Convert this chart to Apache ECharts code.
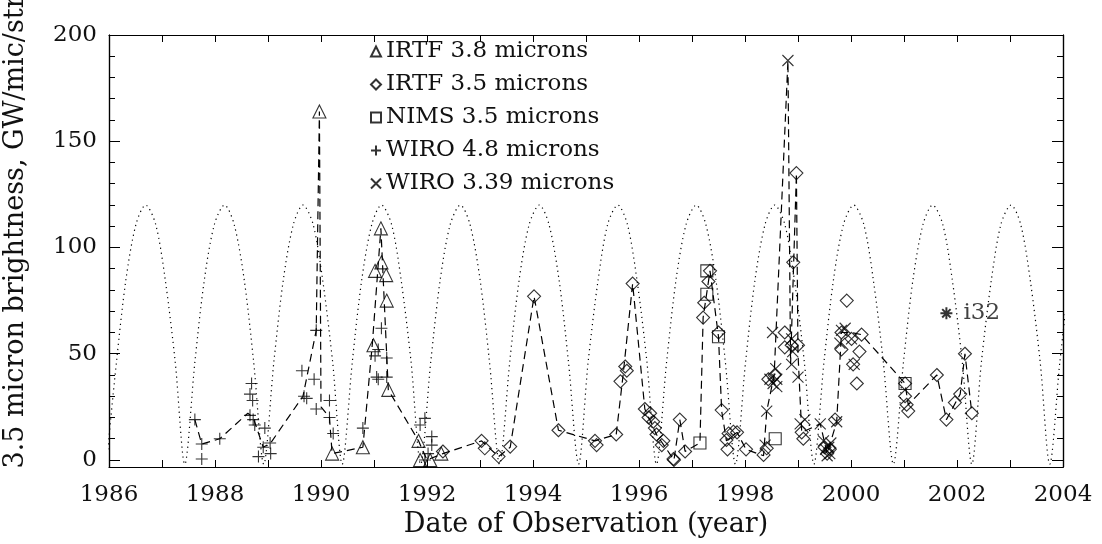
<!DOCTYPE html>
<html>
<head>
<meta charset="utf-8">
<script src="https://cdn.jsdelivr.net/npm/echarts@6/dist/echarts.min.js"></script>
<style>
html,body{margin:0;padding:0;background:#fff;}
#chart{width:1102px;height:544px;}
</style>
</head>
<body>
<div id="chart"></div>
<script>
// ---------------- data ----------------
const xTickLabels = [1986, 1988, 1990, 1992, 1994, 1996, 1998, 2000, 2002, 2004];
const yTickLabels = [0, 50, 100, 150, 200];
const yMinorTicks = [10, 20, 30, 40, 60, 70, 80, 90, 110, 120, 130, 140, 160, 170, 180, 190];

const seriesNames = ['IRTF 3.8 microns', 'IRTF 3.5 microns', 'NIMS 3.5 microns', 'WIRO 4.8 microns', 'WIRO 3.39 microns'];

// IRTF 3.8 microns (triangles)
const irtf38Years = [1989.97, 1990.21, 1990.79, 1990.99, 1991.02, 1991.13, 1991.14, 1991.23, 1991.24, 1991.27, 1991.84, 1991.87, 1992.06, 1992.27];
const irtf38Vals  = [164, 3, 6, 54, 89, 109, 93, 87, 75, 33, 9, 0, 0, 3];

// IRTF 3.5 microns (diamonds)
const irtf35Years = [1992.30, 1993.03, 1993.09, 1993.35, 1993.57, 1994.02, 1994.48, 1995.17, 1995.20, 1995.57,
  1995.65, 1995.74, 1995.77, 1995.88, 1996.11, 1996.18, 1996.21, 1996.27, 1996.30, 1996.33,
  1996.43, 1996.46, 1996.65, 1996.66, 1996.77, 1996.87, 1997.21, 1997.23, 1997.31, 1997.34,
  1997.50, 1997.56, 1997.65, 1997.67, 1997.69, 1997.78, 1997.85, 1998.02, 1998.35, 1998.41,
  1998.44, 1998.56, 1998.75, 1998.75, 1998.88, 1998.91, 1998.97, 1999.00, 1999.07, 1999.10,
  1999.50, 1999.55, 1999.60, 1999.70, 1999.82, 1999.82, 1999.92, 2000.01, 2000.04, 2000.11,
  2000.16, 2000.20, 2001.02, 2001.02, 2001.05, 2001.08, 2001.62, 2001.80, 2001.96, 2002.06,
  2002.15, 2002.28];
const irtf35Vals = [4, 9, 5.5, 1.6, 6.3, 77, 14, 9, 7, 12,
  37, 44, 42, 83, 24, 20, 22, 18, 15, 12,
  7, 9, 0.5, 0, 19, 4, 67, 74, 84, 89,
  60, 23.5, 9.4, 5, 12.5, 13.3, 13, 5, 2.4, 5.5,
  38, 40, 60, 53, 54, 93, 135, 54, 13, 10,
  6, 3, 5, 19, 60, 52, 75, 57, 45, 36,
  51, 59, 36, 30, 26, 23, 40, 19, 27, 31,
  50, 22];

// NIMS 3.5 microns (squares)
const nimsYears = [1997.15, 1997.28, 1997.28, 1997.50, 1998.57, 2001.02];
const nimsVals  = [8, 89, 78, 58, 10, 36];

// WIRO 4.8 microns (plus)
const wiro48Years = [1987.62, 1987.75, 1987.75, 1988.09, 1988.69, 1988.66, 1988.71, 1988.66, 1988.72, 1988.75,
  1988.94, 1988.91, 1989.04, 1988.82, 1989.05, 1989.64, 1989.68, 1989.73, 1989.91, 1989.87,
  1989.91, 1990.16, 1990.16, 1990.23, 1990.79, 1991.02, 1991.05, 1991.08, 1991.08, 1991.14,
  1991.24, 1991.24, 1991.87, 1991.96, 1991.96, 1992.02, 1992.09, 1992.09];
const wiro48Vals = [19, 7.5, 0.5, 10, 36, 31, 28, 21, 19, 16.5,
  15, 6, 8, 1.6, 3, 42, 30, 29, 61, 38,
  24, 28, 20, 12.5, 15, 49, 39, 52, 38, 62,
  48, 39, 16.5, 19.6, 0, 3, 11, 7];

// WIRO 3.39 microns (x)
const wiro339Years = [1998.38, 1998.41, 1998.47, 1998.52, 1998.53, 1998.58, 1998.60, 1998.60, 1998.81, 1998.88,
  1998.88, 1998.90, 1999.00, 1999.04, 1999.13, 1999.42, 1999.48, 1999.52, 1999.55, 1999.58,
  1999.60, 1999.62, 1999.73, 1999.79, 1999.82, 1999.89, 2000.01, 2000.06];
const wiro339Vals = [7, 23, 38, 60, 36, 43, 38, 34.5, 188, 57,
  45, 51, 39, 17, 19, 17, 9, 5, 2, 6,
  3, 8, 18, 55, 61, 62, 57, 45];

// i32 point
const i32Year = 2001.80;
const i32Val = 69;

// dashed connecting line
const dashYears = [1987.62, 1987.75, 1988.09, 1988.62, 1988.72, 1988.91, 1989.05, 1989.66, 1989.91, 1989.97,
  1990.00, 1990.16, 1990.21, 1990.79, 1990.97, 1991.13, 1991.27, 1991.84, 1992.00, 1992.30,
  1993.03, 1993.35, 1993.57, 1994.02, 1994.48, 1995.17, 1995.57, 1995.70, 1995.88, 1996.11,
  1996.33, 1996.66, 1996.77, 1996.87, 1997.15, 1997.21, 1997.34, 1997.50, 1997.56, 1997.65,
  1997.85, 1998.02, 1998.35, 1998.41, 1998.55, 1998.81, 1998.86, 1998.97, 1999.00, 1999.07,
  1999.42, 1999.55, 1999.73, 1999.82, 2000.00, 2000.20, 2001.02, 2001.08, 2001.62, 2001.80,
  2002.06, 2002.15, 2002.28];
const dashVals = [19, 7.5, 10, 22, 20, 6, 8, 30, 61, 164,
  25, 20, 3, 6, 55, 109, 33, 9, 0, 3,
  9, 1.6, 6, 77, 14, 9, 12, 40, 83, 24,
  12, 0, 19, 4, 8, 67, 89, 58, 23, 9,
  13, 5, 2, 23, 40, 188, 45, 135, 50, 13,
  17, 3, 18, 60, 60, 59, 36, 26, 40, 19,
  31, 50, 22];

// dotted periodic curve
const curveYears = [
  1985.95, 1986.14, 1986.32, 1986.51, 1986.69, 1986.88, 1987.06, 1987.25,
  1987.43, 1987.62, 1987.80, 1987.99, 1988.18, 1988.36, 1988.55, 1988.73,
  1988.92, 1989.11, 1989.29, 1989.48, 1989.66, 1989.85, 1990.03, 1990.22,
  1990.40, 1990.59, 1990.77, 1990.96, 1991.14, 1991.33, 1991.51, 1991.70,
  1991.88, 1992.07, 1992.25, 1992.44, 1992.63, 1992.81, 1993.00, 1993.18,
  1993.37, 1993.56, 1993.74, 1993.93, 1994.12, 1994.30, 1994.49, 1994.67,
  1994.86, 1995.04, 1995.23, 1995.41, 1995.60, 1995.78, 1995.96, 1996.15,
  1996.33, 1996.52, 1996.70, 1996.89, 1997.08, 1997.26, 1997.45, 1997.63,
  1997.82, 1998.01, 1998.19, 1998.38, 1998.56, 1998.75, 1998.93, 1999.12,
  1999.30, 1999.49, 1999.67, 1999.86, 2000.05, 2000.24, 2000.42, 2000.61,
  2000.80, 2000.99, 2001.17, 2001.36, 2001.54, 2001.73, 2001.91, 2002.10,
  2002.28, 2002.46, 2002.65, 2002.83, 2003.02, 2003.20, 2003.38, 2003.57,
  2003.75, 2003.94, 2004.12];
const curveVals = [
  -2, 46, 85, 111, 120, 111, 85, 46,
  -2, 46, 85, 111, 120, 111, 85, 46,
  -2, 46, 85, 111, 120, 111, 85, 46,
  -2, 46, 85, 111, 120, 111, 85, 46,
  -2, 46, 85, 111, 120, 111, 85, 46,
  -2, 46, 85, 111, 120, 111, 85, 46,
  -2, 46, 85, 111, 120, 111, 85, 46,
  -2, 46, 85, 111, 120, 111, 85, 46,
  -2, 46, 85, 111, 120, 111, 85, 46,
  -2, 46, 85, 111, 120, 111, 85, 46,
  -2, 46, 85, 111, 120, 111, 85, 46,
  -2, 46, 85, 111, 120, 111, 85, 46,
  -2, 46, 85];

// ---------------- chart ----------------
const FONT = 'DejaVu Serif';
const TXT = '#111';
const zip = (a, b) => a.map((v, i) => [v, b[i]]);

const PLUS = 'path://M0,5L10,5M5,0L5,10';
const CROSS = 'path://M0,0L10,10M10,0L0,10';
const STAR = 'path://M5,0L5,10M0,5L10,5M1.5,1.5L8.5,8.5M8.5,1.5L1.5,8.5';

const hollow = {color: 'rgba(255,255,255,0)', borderColor: '#000', borderWidth: 1.1};

function markerSeries(name, symbol, size, years, vals) {
  return {
    name: name, type: 'scatter', symbol: symbol, symbolSize: size,
    data: zip(years, vals), itemStyle: hollow, z: 5, silent: true
  };
}

const chart = echarts.init(document.getElementById('chart'));

const yCommon = {type: 'value', min: -3.3, max: 200, splitLine: {show: false},
  axisLine: {show: true, onZero: false, lineStyle: {color: '#000', width: 1.2}}};

const option = {
  animation: false,
  backgroundColor: '#fff',
  grid: {left: 109, right: 39, top: 35, bottom: 77},
  legend: {
    data: seriesNames, orient: 'vertical', left: 365, top: 35,
    itemWidth: 10, itemHeight: 10, itemGap: 10, selectedMode: false,
    textStyle: {fontFamily: FONT, fontSize: 23, color: TXT}
  },
  xAxis: [
    {type: 'value', min: 1986, max: 2004, interval: 2, position: 'bottom',
      name: 'Date of Observation (year)', nameLocation: 'middle', nameGap: 42,
      nameTextStyle: {fontFamily: FONT, fontSize: 27, color: TXT},
      axisLine: {onZero: false, lineStyle: {color: '#000', width: 1.2}},
      axisTick: {inside: true, length: 7, lineStyle: {color: '#000'}},
      minorTick: {show: true, splitNumber: 2, length: 7, lineStyle: {color: '#000'}},
      axisLabel: {fontFamily: FONT, fontSize: 23, color: TXT, margin: 17,
        formatter: v => xTickLabels.indexOf(v) >= 0 ? String(v) : ''},
      splitLine: {show: false}},
    {type: 'value', min: 1986, max: 2004, interval: 2, position: 'top',
      axisLine: {onZero: false, lineStyle: {color: '#000', width: 1.2}},
      axisTick: {inside: true, length: 7, lineStyle: {color: '#000'}},
      minorTick: {show: true, splitNumber: 2, length: 7, lineStyle: {color: '#000'}},
      axisLabel: {show: false}, splitLine: {show: false}}
  ],
  yAxis: [
    Object.assign({}, yCommon, {position: 'left',
      axisTick: {inside: true, length: 11, customValues: yTickLabels, lineStyle: {color: '#000'}},
      axisLabel: {customValues: yTickLabels, fontFamily: FONT, fontSize: 23, color: TXT, margin: 12}}),
    Object.assign({}, yCommon, {position: 'left',
      axisTick: {inside: true, length: 6, customValues: yMinorTicks, lineStyle: {color: '#000'}},
      axisLabel: {show: false}}),
    Object.assign({}, yCommon, {position: 'right',
      axisTick: {inside: true, length: 11, customValues: yTickLabels, lineStyle: {color: '#000'}},
      axisLabel: {show: false}}),
    Object.assign({}, yCommon, {position: 'right',
      axisTick: {inside: true, length: 6, customValues: yMinorTicks, lineStyle: {color: '#000'}},
      axisLabel: {show: false}})
  ],
  graphic: [{
    type: 'text', x: 16, y: 232, rotation: Math.PI / 2,
    style: {text: '3.5 micron brightness, GW/mic/str', font: '27px "DejaVu Serif"',
      fill: TXT, textAlign: 'center', textVerticalAlign: 'middle'}
  }],
  series: [
    {name: 'curve', type: 'line', data: zip(curveYears, curveVals), symbol: 'none', silent: true,
      smooth: 0.3,
      lineStyle: {color: '#000', width: 1.2, type: [1.2, 3.8]}, z: 1},
    {name: 'dash', type: 'line', data: zip(dashYears, dashVals), symbol: 'none', silent: true,
      lineStyle: {color: '#000', width: 1.2, type: [8, 5]}, z: 2},
    markerSeries(seriesNames[0], 'triangle', 13, irtf38Years, irtf38Vals),
    markerSeries(seriesNames[1], 'diamond', 13, irtf35Years, irtf35Vals),
    markerSeries(seriesNames[2], 'rect', 12, nimsYears, nimsVals),
    markerSeries(seriesNames[3], PLUS, 12, wiro48Years, wiro48Vals),
    markerSeries(seriesNames[4], CROSS, 11, wiro339Years, wiro339Vals),
    {name: 'i32', type: 'scatter', symbol: STAR, symbolSize: 12, silent: true,
      data: [[i32Year, i32Val]], itemStyle: {color: 'rgba(0,0,0,0)', borderColor: '#000', borderWidth: 2},
      label: {show: true, position: 'right', distance: 10, formatter: 'i32',
        fontFamily: FONT, fontSize: 23, color: TXT}, z: 6}
  ]
};
chart.setOption(option);
</script>
</body>
</html>
